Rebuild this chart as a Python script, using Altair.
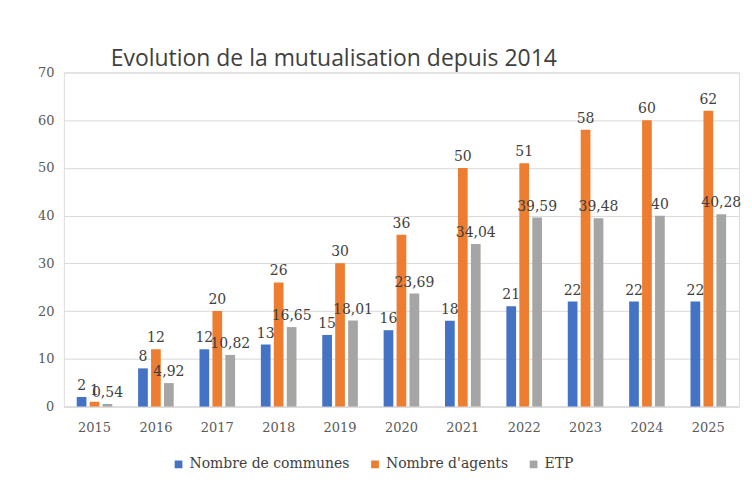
import altair as alt
import pandas as pd

years = ["2015", "2016", "2017", "2018", "2019", "2020", "2021", "2022", "2023", "2024", "2025"]
communes = [2, 8, 12, 13, 15, 16, 18, 21, 22, 22, 22]
agents = [1, 12, 20, 26, 30, 36, 50, 51, 58, 60, 62]
etp = [0.54, 4.92, 10.82, 16.65, 18.01, 23.69, 34.04, 39.59, 39.48, 40, 40.28]
series = ["Nombre de communes", "Nombre d'agents", "ETP"]
colors = ["#4472C4", "#ED7D31", "#A5A5A5"]

rows = []
for i, y in enumerate(years):
    for s, vals in zip(series, [communes, agents, etp]):
        rows.append({"year": y, "series": s, "value": vals[i]})
df = pd.DataFrame(rows)

font_serif = "DejaVu Serif"

base = alt.Chart(df).encode(
    x=alt.X("year:N", sort=years, title=None,
            scale=alt.Scale(paddingInner=0.42, paddingOuter=0.21),
            axis=alt.Axis(labelAngle=0, labelFont=font_serif, labelFontSize=13,
                          labelColor="#595959", ticks=False, domain=True,
                          domainColor="#d9d9d9", labelPadding=15)),
    xOffset=alt.XOffset("series:N", sort=series,
                        scale=alt.Scale(paddingInner=0.25)),
    y=alt.Y("value:Q", title=None,
            scale=alt.Scale(domain=[0, 70]),
            axis=alt.Axis(values=[0, 10, 20, 30, 40, 50, 60, 70], labelFont=font_serif,
                          labelFontSize=13, labelColor="#595959", ticks=False,
                          domain=False, gridColor="#d9d9d9", labelPadding=10)),
)

bars = base.mark_bar().encode(
    color=alt.Color("series:N", sort=series,
                    scale=alt.Scale(domain=series, range=colors),
                    legend=alt.Legend(title=None, orient="none", direction="horizontal",
                                      legendX=108, legendY=386,
                                      symbolType="square", symbolSize=60,
                                      labelFont=font_serif, labelFontSize=14,
                                      labelColor="#404040", columnPadding=18,
                                      labelLimit=0, symbolStrokeWidth=0))
)

labels = base.transform_calculate(
    label="replace(toString(datum.value), '.', ',')"
).mark_text(dy=-11, font=font_serif, fontSize=14, color="#404040").encode(
    text="label:N"
)

chart = alt.layer(bars, labels).properties(
    width=677, height=335,
    title=alt.Title("Evolution de la mutualisation depuis 2014", anchor="start",
                    frame="group",
                    font="Open Sans", fontSize=23, fontWeight="normal",
                    color="#404040", dx=47, offset=-5),
    padding={"left": 29, "top": 40, "right": 2, "bottom": 5},
).configure_view(stroke=None).configure(background="white")

chart.save("out.html", embed_options={"renderer": "svg", "actions": False})
